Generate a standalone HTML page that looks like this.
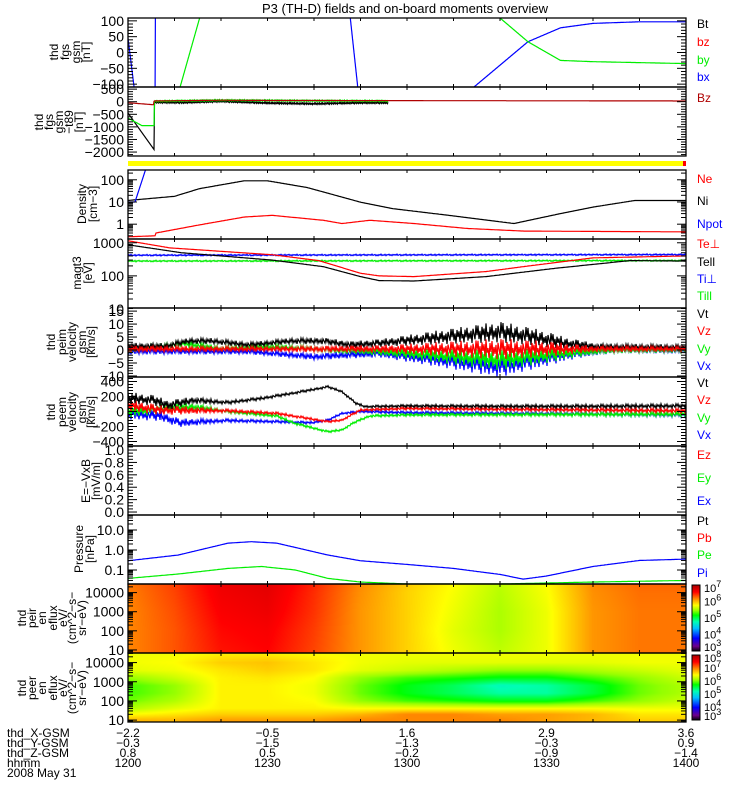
<!DOCTYPE html>
<html><head><meta charset="utf-8">
<style>
html,body{margin:0;padding:0;background:#fff;}
#wrap{position:relative;width:750px;height:800px;overflow:hidden;font-family:"Liberation Sans",sans-serif;}
svg{position:absolute;left:0;top:0;}
canvas{position:absolute;}
</style></head>
<body>
<div id="wrap">
<canvas id="spec1" width="558" height="69" style="left:128px;top:584px"></canvas>
<canvas id="spec2" width="558" height="69" style="left:128px;top:653px"></canvas>
<svg id="svg" width="750" height="800" xmlns="http://www.w3.org/2000/svg"></svg>
</div>
<script>
// ---------- DATA ----------
const bxT=[0,1.3,1.4,5.8,5.9,47.6,47.8,49.4,49.5,74.4,80,86,93,100,110,120];
const bxV=[45,-109,-200,-200,200,200,109,-109,-200,-109,-40,34,78,92,97,97];
const byT=[0,11.2,15.4,15.5,79.9,80,86,93,100,110,120];
const byV=[-200,-109,109,200,200,109,34,-25,-29,-32,-35];
const p2kT=[0,5.6,5.7,12,20,30,40,50,56];
const p2kV=[-450,-1900,-20,-30,20,-50,-80,-40,-40];
const p2gT=[0,3,5.6,5.7,20,40,56];
const p2gV=[-650,-950,-950,20,60,40,30];
const p2rT=[0,5.5,5.6,20,30,120];
const p2rV=[-40,-120,30,60,50,30];
const niT=[0,10,15.4,25,30,38.5,50,57,69,83,93,100,109,120];
const niV=[11.7,18,40,90,90,45,9.8,5,2.5,1.07,3,5.9,11.7,11.7];
const neT=[0,5.9,6,15,25,31,42,46,52,61.5,73,85,120];
const neV=[0.27,0.3,0.4,0.9,2.1,2.5,1.5,1.07,1.5,1.07,0.64,0.49,0.45];
const npT=[0,1.5,4];
const npV=[10,10,400];
const tepT=[0,9,31,41,50,54,61.5,77,85,100,120];
const tepV=[1150,700,435,290,120,100,95,135,190,350,400];
const tellT=[0,11.5,31,42,50,54,61.5,77,92,108,120];
const tellV=[870,500,300,190,95,72,70,95,170,290,280];
const tipT=[0,120]; const tipV=[420,440];
const tillT=[0,120]; const tillV=[280,290];
const v1kT=[0,8,13,18,26,35,42,48,54,72,80,87,94,101,120];
const v1kV=[1.5,1.5,3.5,3.5,2,3.5,3.5,2,2.7,5.8,7,5.2,2.7,1.3,1.1];
const v1rT=[0,120]; const v1rV=[0.4,0.4];
const v1gT=[0,12,20,30,45,54,80,94,105,120];
const v1gV=[0,2.5,0.5,1.3,0,-0.6,-3.8,-1.3,0,0];
const v1bT=[0,26,40,47,54,80,94,105,120];
const v1bV=[-0.5,-0.6,-2.6,-1.9,-1.3,-6.4,-1.9,0,-0.3];
const v1nT=[0,30,55,70,80,90,100,120];
const v1nA=[1.2,1,1.5,3,4,3,1.2,1];
const v2kT=[0,5.7,8.6,14,21.5,28.7,36,43,46,49,51,60,80,100,120];
const v2kV=[180,150,85,150,120,175,250,330,265,110,65,75,70,70,75];
const v2rT=[0,7,21.5,32,43,46,50,60,120];
const v2rV=[85,20,10,-25,-135,-115,20,40,10];
const v2gT=[0,14,21.5,32,36,43,46,49,52,60,120];
const v2gV=[0,65,0,-60,-160,-270,-245,-135,-60,-45,-35];
const v2bT=[0,7,11,21.5,32,39.5,43,46,50,60,120];
const v2bV=[-25,-60,-150,-120,-135,-150,-115,-25,0,-15,-45];
const v2nT=[0,10,20,45,60,120];
const v2nA=[80,60,25,15,20,30];
const piT=[0,10.8,21.5,26.5,32,43,50,60,70,80,85,90,100,110,120];
const piV=[0.29,0.56,2.2,2.6,2.2,0.56,0.29,0.19,0.12,0.06,0.035,0.05,0.15,0.3,0.35];
const peT=[0,10.8,21.5,28.7,36,43,50,60,80,100,120];
const peV=[0.038,0.063,0.12,0.15,0.1,0.038,0.025,0.02,0.02,0.025,0.03];
const specT=[0,10,20,30,40,50,60,70,80,90,100,110,120];
const ionE=[1,2,3,4,4.5];
const ionF=[
 [6.2,6.35,6.55,6.6,6.4,6.15,5.95,5.75,5.6,5.75,6.15,6.25,6.25],
 [6.2,6.35,6.58,6.63,6.42,6.15,5.95,5.72,5.55,5.75,6.15,6.25,6.25],
 [6.2,6.37,6.62,6.68,6.45,6.15,5.95,5.75,5.55,5.75,6.15,6.25,6.25],
 [6.22,6.4,6.66,6.72,6.47,6.17,5.95,5.78,5.58,5.78,6.17,6.27,6.27],
 [6.25,6.42,6.68,6.75,6.5,6.2,5.98,5.8,5.6,5.8,6.2,6.3,6.3]];
const eleE=[1.0,1.3,1.6,2.0,2.4,2.8,3.2,3.6,4.0,4.5];
const eleF=[
 [6.8,6.8,6.9,6.9,6.9,7.0,7.0,7.0,7.0,6.9,6.8,6.7,6.7],
 [6.5,6.6,6.7,6.7,6.7,6.8,7.0,7.0,6.9,6.9,6.8,6.6,6.6],
 [6.2,6.4,6.55,6.55,6.55,6.5,6.5,6.5,6.5,6.5,6.5,6.45,6.45],
 [6.0,6.2,6.55,6.55,6.5,6.1,5.9,5.8,5.7,5.7,5.9,6.1,6.3],
 [5.9,6.1,6.55,6.55,6.45,6.0,5.7,5.5,5.3,5.3,5.6,6.0,6.2],
 [5.9,6.1,6.55,6.55,6.45,6.0,5.7,5.5,5.2,5.3,5.6,6.0,6.2],
 [6.1,6.3,6.55,6.6,6.5,6.1,5.9,5.8,5.7,5.7,5.9,6.1,6.3],
 [6.4,6.45,6.6,6.7,6.6,6.4,6.3,6.2,6.1,6.1,6.2,6.3,6.4],
 [6.45,6.5,6.7,6.75,6.6,6.45,6.4,6.4,6.4,6.4,6.4,6.45,6.45],
 [6.45,6.45,6.55,6.55,6.5,6.45,6.45,6.45,6.45,6.45,6.45,6.45,6.45]];
const timeLabels=["1200","1230","1300","1330","1400"];
const xgsm=["-2.2","-0.5","1.6","2.9","3.6"];
const ygsm=["-0.3","-1.5","-1.3","-0.3","0.9"];
const zgsm=["0.8","0.5","-0.2","-0.9","-1.4"];

// ---------- HELPERS ----------
const NS="http://www.w3.org/2000/svg";
const svg=document.getElementById('svg');
const X0=128,X1=686,TMAX=120;
function xs(t){return X0+(t/TMAX)*(X1-X0);}
function mk(tag,attrs,parent){const e=document.createElementNS(NS,tag);for(const k in attrs)e.setAttribute(k,attrs[k]);(parent||svg).appendChild(e);return e;}
function interp(ts,vs,t,log){
  if(t<=ts[0])return vs[0];
  for(let i=1;i<ts.length;i++){if(t<=ts[i]){const f=(t-ts[i-1])/(ts[i]-ts[i-1]||1);
    if(log)return Math.pow(10,Math.log10(vs[i-1])+f*(Math.log10(vs[i])-Math.log10(vs[i-1])));
    return vs[i-1]+f*(vs[i]-vs[i-1]);}}
  return vs[vs.length-1];
}
const pat=[0.9,-0.6,0.3,-1,0.7,-0.2,0.5,-0.8,1,-0.4,0.1,-0.9,0.6,-0.3,0.8,-0.7,0.2,-0.5,0.4,-1,0.6,0,-0.6,0.95,-0.15];

function makePanel(p){
  p.y=function(v){let u=p.log?Math.log10(v):v;return p.bot-(u-p.dmin)/(p.dmax-p.dmin)*(p.bot-p.top);};
  const cp=mk('clipPath',{id:'cp-'+p.name});
  mk('rect',{x:X0,y:p.top,width:X1-X0,height:p.bot-p.top},cp);
  p.g=mk('g',{'clip-path':'url(#cp-'+p.name+')'});
  
  
  return p;
}
function drawFrame(p){
  const g=mk('g',{});
  
  
  mk('rect',{x:X0,y:p.top,width:X1-X0,height:p.bot-p.top,fill:'none',stroke:'#000','stroke-width':1.3},g);
  for(let t=10;t<TMAX;t+=10){const x=xs(t);
    mk('line',{x1:x,x2:x,y1:p.top,y2:p.top+3,stroke:'#000'},g);
    mk('line',{x1:x,x2:x,y1:p.bot,y2:p.bot-3,stroke:'#000'},g);}
  const ticks=[];
  if(p.log){
    for(let d=Math.floor(p.dmin);d<=Math.ceil(p.dmax);d++){
      for(let m=1;m<10;m++){const u=d+Math.log10(m);if(u<p.dmin||u>p.dmax)continue;ticks.push([u,m===1]);}
    }
  } else if(p.minor){
    const s=Math.ceil(p.dmin/p.minor)*p.minor;
    for(let v=s;v<=p.dmax+1e-9;v+=p.minor){const maj=Math.abs(v/p.major-Math.round(v/p.major))<1e-6;ticks.push([v,maj]);}
  }
  ticks.forEach(([u,maj])=>{const y=p.bot-(u-p.dmin)/(p.dmax-p.dmin)*(p.bot-p.top);const L=maj?9:5;
    mk('line',{x1:X0,x2:X0+L,y1:y,y2:y,stroke:'#000'},g);
    mk('line',{x1:X1,x2:X1-L,y1:y,y2:y,stroke:'#000'},g);});
  (p.labels||[]).forEach(([v,s])=>{const t=mk('text',{x:124,y:p.y(v)+5,'text-anchor':'end','font-size':14,fill:'#000'},g);t.textContent=s;});
}
function series(p,ts,vs,color,opt){
  opt=opt||{};
  const pts=[];let i=0;
  const t0=ts[0],t1=ts[ts.length-1];
  for(let px=xs(t0);px<=xs(t1)+0.01;px+=opt.step||1){
    const t=(px-X0)/(X1-X0)*TMAX;
    let v=interp(ts,vs,t,p.log);
    let y=p.y(v);
    if(opt.nT){const a=interp(opt.nT,opt.nA,t,false);
      if(p.log){y+= (a)*pat[i%pat.length];} else {v+=a*pat[i%pat.length];y=p.y(v);} }
    pts.push(px.toFixed(1)+','+y.toFixed(1));i++;
  }
  const pl=mk('polyline',{points:pts.join(' '),fill:'none',stroke:color,'stroke-width':opt.w||1.2},p.g);
  
  
}
function ylabel(lines,xs_,cy,name){
  const g=mk('g',{});
  
  
  lines.forEach((s,i)=>{const x=xs_[i];const t=mk('text',{x:0,y:0,transform:'translate('+x+','+cy+') rotate(-90)','text-anchor':'middle','dominant-baseline':'central','font-size':12},g);t.textContent=s;});
}
function legend(items,name){
  const g=mk('g',{});
  
  
  items.forEach(([s,y,c])=>{const t=mk('text',{x:697,y:y+4,'font-size':12,fill:c},g);t.textContent=s;});
}
const K='#000',R='#ff0000',G='#00ee00',B='#0000ff',DR='#b00000';

const title=mk('text',{x:405,y:13,'text-anchor':'middle','font-size':13});
title.textContent='P3 (TH-D) fields and on-board moments overview';



const p1=makePanel({name:'fgs-gsm',top:18,bot:87,dmin:-109,dmax:109,minor:10,major:50,labels:[[100,'100'],[50,'50'],[0,'0'],[-50,'\u221250'],[-100,'\u2212100']]});
series(p1,bxT,bxV,B,{name:'bx',step:0.25});
series(p1,byT,byV,G,{name:'by',step:0.25});
drawFrame(p1);
ylabel(['thd','fgs','gsm','[nT]'],[54,65,76,86],52,'fgs-gsm-y-title');
legend([['Bt',24,K],['bz',42,R],['by',60,G],['bx',77,B]],'fgs-gsm-legend');

const p2=makePanel({name:'fgs-t89',top:87,bot:156,dmin:-2157,dmax:585,minor:100,major:500,labels:[[500,'500'],[0,'0'],[-500,'\u2212500'],[-1000,'\u22121000'],[-1500,'\u22121500'],[-2000,'\u22122000']]});
series(p2,p2kT,p2kV,K,{name:'dbx',step:0.5,nT:[0,5.6,5.7,56],nA:[0,0,30,30]});
series(p2,p2gT,p2gV,G,{name:'dby',step:0.5,nT:[0,5.6,5.7,56],nA:[0,0,25,25]});
series(p2,p2rT,p2rV,DR,{name:'dbz',step:0.5});
drawFrame(p2);
ylabel(['thd','fgs','gsm','\u2212t89','[nT]'],[39,49,59,69,79],122,'fgs-t89-y-title');
legend([['Bz',98,DR]],'fgs-t89-legend');

const yb=mk('rect',{x:X0,y:161,width:X1-X0,height:5,fill:'#ffff00'});


mk('rect',{x:X1-3,y:161,width:3,height:5,fill:'#ff0000'});

const p3=makePanel({name:'density',top:170,bot:239,log:true,dmin:Math.log10(0.215),dmax:Math.log10(276),labels:[[100,'100'],[10,'10'],[1,'1']]});
series(p3,niT,niV,K,{name:'ni'});
series(p3,neT,neV,R,{name:'ne'});
series(p3,npT,npV,B,{name:'npot',step:0.25});
drawFrame(p3);
ylabel(['Density','[cm\u22123]'],[82,93],204,'density-y-title');
legend([['Ne',179,R],['Ni',201,K],['Npot',224,B]],'density-legend');

const p4=makePanel({name:'temperature',top:239,bot:308,log:true,dmin:Math.log10(10.7),dmax:Math.log10(1300),labels:[[1000,'1000'],[100,'100'],[10,'10']]});
series(p4,tipT,tipV,B,{name:'ti-perp',nT:[0,120],nA:[0.8,0.8]});
series(p4,tillT,tillV,G,{name:'ti-par',nT:[0,120],nA:[0.8,0.8]});
series(p4,tepT,tepV,R,{name:'te-perp'});
series(p4,tellT,tellV,K,{name:'te-par'});
drawFrame(p4);
ylabel(['magt3','[eV]'],[77,88],273,'temperature-y-title');
legend([['Te\u22a5',244,R],['Tell',262,K],['Ti\u22a5',279,B],['Till',296,G]],'temperature-legend');

const p5=makePanel({name:'velocity-peim',top:308,bot:377,dmin:-10.4,dmax:16.2,minor:1,major:5,labels:[[15,'15'],[10,'10'],[5,'5'],[0,'0'],[-5,'\u22125'],[-10,'\u221210']]});
series(p5,v1bT,v1bV,B,{name:'vx-peim',nT:v1nT,nA:v1nA});
series(p5,v1gT,v1gV,G,{name:'vy-peim',nT:v1nT,nA:v1nA});
series(p5,v1kT,v1kV,K,{name:'vt-peim',nT:v1nT,nA:v1nA});
series(p5,v1rT,v1rV,R,{name:'vz-peim',nT:v1nT,nA:v1nA});
drawFrame(p5);
ylabel(['thd','peim','velocity','gsm','[km/s]'],[51,62,72,82,91],342,'velocity-peim-y-title');
legend([['Vt',314,K],['Vz',331,R],['Vy',349,G],['Vx',366,B]],'velocity-peim-legend');

const p6=makePanel({name:'velocity-peem',top:377,bot:446,dmin:-460,dmax:460,minor:40,major:200,labels:[[400,'400'],[200,'200'],[0,'0'],[-200,'\u2212200'],[-400,'\u2212400']]});
series(p6,v2bT,v2bV,B,{name:'vx-peem',nT:v2nT,nA:v2nA});
series(p6,v2gT,v2gV,G,{name:'vy-peem',nT:v2nT,nA:v2nA});
series(p6,v2rT,v2rV,R,{name:'vz-peem',nT:v2nT,nA:v2nA});
series(p6,v2kT,v2kV,K,{name:'vt-peem',nT:v2nT,nA:v2nA});
drawFrame(p6);
ylabel(['thd','peem','velocity','gsm','[km/s]'],[51,62,72,82,91],412,'velocity-peem-y-title');
legend([['Vt',383,K],['Vz',400,R],['Vy',418,G],['Vx',435,B]],'velocity-peem-legend');

const p7=makePanel({name:'efield',top:446,bot:515,dmin:-0.048,dmax:1.065,minor:0.05,major:0.2,labels:[[1,'1.0'],[0.8,'0.8'],[0.6,'0.6'],[0.4,'0.4'],[0.2,'0.2'],[0,'0.0']]});
drawFrame(p7);
ylabel(['E=\u2212VxB','[mV/m]'],[86,96],481,'efield-y-title');
legend([['Ez',455,R],['Ey',478,G],['Ex',501,B]],'efield-legend');

const p8=makePanel({name:'pressure',top:515,bot:584,log:true,dmin:-1.7,dmax:1.75,labels:[[10,'10.0'],[1,'1.0'],[0.1,'0.1']]});
series(p8,piT,piV,B,{name:'pi'});
series(p8,peT,peV,G,{name:'pe'});
drawFrame(p8);
ylabel(['Pressure','[nPa]'],[79,90],549,'pressure-y-title');
legend([['Pt',521,K],['Pb',538,R],['Pe',555,G],['Pi',573,B]],'pressure-legend');

function cmap(f){
  const st=[[0,0,0,0],[0.08,110,0,140],[0.2,0,0,255],[0.35,0,190,255],[0.45,0,255,180],[0.55,0,255,0],[0.62,150,255,0],[0.7,255,255,0],[0.8,255,135,0],[0.9,255,0,0],[1,175,0,0]];
  f=Math.max(0,Math.min(1,f));
  for(let i=1;i<st.length;i++){if(f<=st[i][0]){const a=st[i-1],b=st[i],u=(f-a[0])/(b[0]-a[0]);
    return [a[1]+u*(b[1]-a[1]),a[2]+u*(b[2]-a[2]),a[3]+u*(b[3]-a[3])];}}
  return [175,0,0];
}
function drawSpec(id,Es,F,emin,emax,fmin,fmax){
  const c=document.getElementById(id),ctx=c.getContext('2d');
  const W=c.width,H=c.height,img=ctx.createImageData(W,H);
  for(let py=0;py<H;py++){
    const le=emax-(py+0.5)/H*(emax-emin);
    let j=0;while(j<Es.length-2&&le>Es[j+1])j++;
    let fe=(le-Es[j])/(Es[j+1]-Es[j]);fe=Math.max(0,Math.min(1,fe));
    for(let px=0;px<W;px++){
      const t=(px+0.5)/W*TMAX;
      const a=interp(specT,F[j],t,false),b=interp(specT,F[j+1],t,false);
      const v=a+fe*(b-a);
      const col=cmap((v-fmin)/(fmax-fmin));
      const k=(py*W+px)*4;img.data[k]=col[0];img.data[k+1]=col[1];img.data[k+2]=col[2];img.data[k+3]=255;
    }
  }
  ctx.putImageData(img,0,0);
}
drawSpec('spec1',ionE,ionF,0.84,4.45,3,7);
drawSpec('spec2',eleE,eleF,0.9,4.5,3,8);
const p9=makePanel({name:'ion-eflux',top:584,bot:653,log:true,dmin:0.84,dmax:4.45,labels:[[10000,'10000'],[1000,'1000'],[100,'100'],[10,'10']]});
drawFrame(p9);
const p10=makePanel({name:'electron-eflux',top:653,bot:722,log:true,dmin:0.9,dmax:4.5,labels:[[10000,'10000'],[1000,'1000'],[100,'100'],[10,'10']]});
drawFrame(p10);
const specTitleX=[22,32,42,53,63,72,82];
ylabel(['thd','peir','en','eflux','eV/','(cm^2\u2212s\u2212','sr\u2212eV)'],specTitleX,618,'ion-eflux-y-title');
ylabel(['thd','peer','en','eflux','eV/','(cm^2\u2212s\u2212','sr\u2212eV)'],specTitleX,688,'electron-eflux-y-title');

function colorbar(top,bot,pmin,pmax,name){
  const g=mk('g',{});
  
  
  for(let y=top;y<bot;y++){const f=1-(y-top)/(bot-top);const c=cmap(f);
    mk('rect',{x:692,y:y,width:8,height:1.2,fill:'rgb('+c.map(Math.round).join(',')+')'},g);}
  mk('rect',{x:692,y:top,width:8,height:bot-top,fill:'none',stroke:'#000'},g);
  for(let p=pmin;p<=pmax;p++){const y=bot-(p-pmin)/(pmax-pmin)*(bot-top);
    const t=mk('text',{x:704,y:Math.max(top+7,Math.min(bot,y+4)),'font-size':11},g);
    t.textContent='10';const s=mk('tspan',{dy:-5,'font-size':9},t);s.textContent=String(p);}
}
colorbar(585,651,3,7,'ion-colorbar');
colorbar(655,720,3,8,'electron-colorbar');

const bg=mk('g',{});


const rowY=[737,747,757,767];
const rowNames=['thd_X-GSM','thd_Y-GSM','thd_Z-GSM','hhmm'];
const rowVals=[xgsm,ygsm,zgsm,timeLabels];
rowNames.forEach((n,r)=>{const t=mk('text',{x:7,y:rowY[r],'font-size':12},bg);t.textContent=n;
  rowVals[r].forEach((v,i)=>{const tt=mk('text',{x:xs(i*30),y:rowY[r],'font-size':12,'text-anchor':'middle'},bg);tt.textContent=v.replace('-','\u2212');});});
const dt=mk('text',{x:7,y:777,'font-size':12},bg);dt.textContent='2008 May 31';
</script>
</body></html>
